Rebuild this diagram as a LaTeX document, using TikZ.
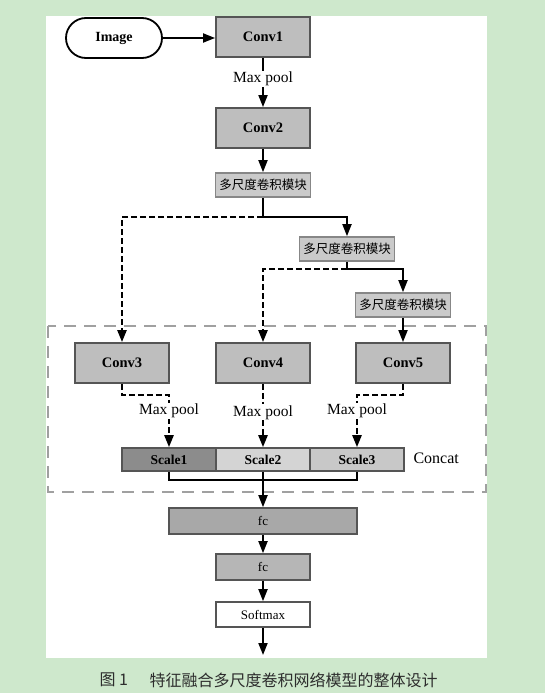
\documentclass[tikz,border=0pt]{standalone}
\usepackage{fontspec}
\setmainfont{Liberation Serif}
\newfontfamily\cjk{Noto Sans CJK SC}
\usepackage{tikz}
\usetikzlibrary{arrows.meta,positioning}
\definecolor{PageGreen}{RGB}{206,232,204}
\definecolor{FrameGray}{RGB}{160,160,160}
\definecolor{EdgeGray}{RGB}{85,85,85}
\definecolor{ModEdge}{RGB}{135,135,135}
\definecolor{ConvGray}{RGB}{190,190,190}
\definecolor{ModGray}{RGB}{202,202,202}
\definecolor{ScaleDark}{RGB}{140,140,140}
\definecolor{ScaleMid}{RGB}{212,212,212}
\definecolor{ScaleLight}{RGB}{200,200,200}
\definecolor{FcDark}{RGB}{168,168,168}
\definecolor{FcLight}{RGB}{182,182,182}
\definecolor{CaptionInk}{RGB}{45,45,45}

\begin{document}
\begin{tikzpicture}[x=1pt,y=-1pt,
  pill/.style={draw,line width=1.8pt,fill=white,rounded corners=20pt,
    minimum width=96pt,minimum height=40pt,font=\bfseries\fontsize{14}{16}\selectfont},
  convbox/.style={draw=EdgeGray,fill=ConvGray,line width=1.8pt,
    minimum width=94pt,minimum height=40pt,font=\bfseries\fontsize{14.5}{16}\selectfont},
  modbox/.style={draw=ModEdge,fill=ModGray,line width=1.6pt,inner sep=0pt,
    minimum width=95pt,minimum height=24pt,font=\cjk\fontsize{12.5}{14}\selectfont},
  scalebox/.style={draw=EdgeGray,line width=1.6pt,minimum width=94pt,
    minimum height=23pt,font=\bfseries\fontsize{13.5}{15}\selectfont},
  fcbox/.style={draw=EdgeGray,line width=1.6pt,minimum height=26pt,
    font=\fontsize{13}{14}\selectfont},
  pool/.style={fill=white,inner sep=1pt,font=\fontsize{15.5}{17}\selectfont},
  flow/.style={-{Triangle[length=12pt,width=9pt]},line width=1.8pt},
  skip/.style={flow,line width=2.3pt,dash pattern=on 6pt off 3pt},
  link/.style={line width=1.8pt}]
  % page and panel
  \useasboundingbox (0,0) rectangle (545,693);
  \fill[PageGreen] (0,0) rectangle (545,693);
  \fill[white] (46,16) rectangle (487,658);
  \draw[FrameGray,line width=1.8pt,dash pattern=on 12pt off 8pt] (48,326) rectangle (486,492);
  % trunk
  \node[pill] (img) at (114,38) {Image};
  \node[convbox] (conv1) at (263,37) {Conv1};
  \node[convbox] (conv2) at (263,128) {Conv2};
  \node[modbox] (msa) at (263,185) {多尺度卷积模块};
  \node[modbox] (msb) at (347,249) {多尺度卷积模块};
  \node[modbox] (msc) at (403,305) {多尺度卷积模块};
  % branches
  \node[convbox] (conv3) at (122,363) {Conv3};
  \node[convbox] (conv4) at (263,363) {Conv4};
  \node[convbox] (conv5) at (403,363) {Conv5};
  \node[scalebox,fill=ScaleDark] (scale1) at (169,459.5) {Scale1};
  \node[scalebox,fill=ScaleMid] (scale2) at (263,459.5) {Scale2};
  \node[scalebox,fill=ScaleLight] (scale3) at (357,459.5) {Scale3};
  \node[anchor=west,font=\fontsize{16}{18}\selectfont] (concat) at (410,458) {Concat};
  % head
  \node[fcbox,fill=FcDark,minimum width=188pt] (fc1) at (263,521) {fc};
  \node[fcbox,fill=FcLight,minimum width=94pt] (fc2) at (263,567) {fc};
  \node[fcbox,fill=white,minimum width=94pt,minimum height=25pt] (soft) at (263,614.5) {Softmax};
  \coordinate (forka) at (263,217);
  \coordinate (forkb) at (347,269);
  \coordinate (bend3) at (169,395);
  \coordinate (bend5) at (357,395);
  \coordinate (joint) at (263,480);
  \coordinate (out) at (263,655);
  % connectors
  \draw[flow] (img.east) -- (img.east -| conv1.west);
  \draw[flow] (conv1) -- node[pool,pos=0.43] {Max pool} (conv2);
  \draw[flow] (conv2) -- (msa);
  \draw[link] (msa) -- (forka);
  \draw[flow] (forka) -| (msb);
  \draw[skip] (forka) -| (conv3);
  \draw[link] (msb) -- (forkb);
  \draw[flow] (forkb) -| (msc);
  \draw[skip] (forkb) -| (conv4);
  \draw[flow] (msc) -- (conv5);
  \draw[skip] (conv3) |- (bend3) -- node[pool,pos=0.3] {Max pool} (scale1);
  \draw[skip] (conv4) -- node[pool,pos=0.45] {Max pool} (scale2);
  \draw[skip] (conv5) |- (bend5) -- node[pool,pos=0.3] {Max pool} (scale3);
  \draw[link] (scale1.south) |- (joint) -| (scale3.south);
  \draw[flow] (scale2) -- (fc1);
  \draw[flow] (fc1) -- (fc2);
  \draw[flow] (fc2) -- (soft);
  \draw[flow] (soft) -- (out);
  % caption
  \node[anchor=west,text=CaptionInk,font=\cjk\fontsize{16}{18}\selectfont] (figno) at (96,680) {图 1};
  \node[anchor=west,text=CaptionInk,font=\cjk\fontsize{16}{18}\selectfont] (title) at (146,680) {特征融合多尺度卷积网络模型的整体设计};
\end{tikzpicture}
\end{document}
